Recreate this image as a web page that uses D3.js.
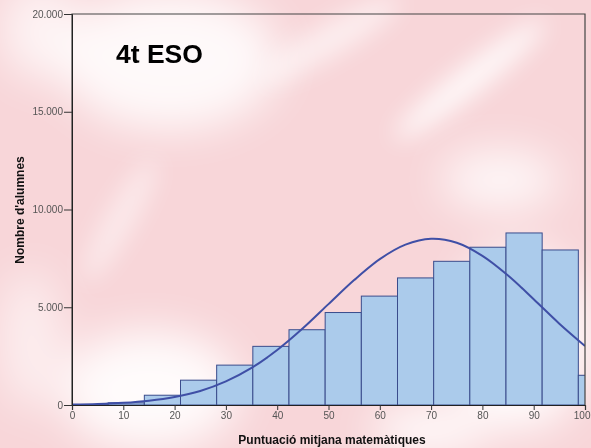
<!DOCTYPE html>
<html><head><meta charset="utf-8">
<script src="https://cdn.jsdelivr.net/npm/d3@7/dist/d3.min.js"></script>
<style>html,body{margin:0;padding:0;background:#fff;overflow:hidden}</style>
</head><body>
<svg id="chart" width="591" height="448"></svg>
<script>
// Data
const binStarts = [0, 7.05, 14.1, 21.15, 28.2, 35.25, 42.3, 49.35, 56.4, 63.45, 70.5, 77.55, 84.6, 91.65, 98.7];
const binWidth = 7.05;
const binCounts = [20, 110, 500, 1270, 2040, 3000, 3850, 4730, 5570, 6500, 7350, 8070, 8800, 7930, 1520];
const curveX = [0, 5, 10, 15, 20, 25, 30, 35, 40, 45, 50, 55, 60, 65, 70, 75, 80, 85, 90, 95, 100];
const curveY = [20, 50, 110, 220, 410, 720, 1210, 1900, 2810, 3920, 5160, 6390, 7460, 8200, 8500, 8300, 7630, 6620, 5410, 4160, 3020];
const xTicks = [0, 10, 20, 30, 40, 50, 60, 70, 80, 90, 100];
const yTicks = [0, 5000, 10000, 15000, 20000];
const yTickLabels = ["0", "5.000", "10.000", "15.000", "20.000"];
const title = "4t ESO";
const xTitle = "Puntuació mitjana matemàtiques";
const yTitle = "Nombre d'alumnes";

const svg = d3.select("#chart");
const L = 72, R = 585, T = 14, B = 405;
const x = d3.scaleLinear().domain([0, 100]).range([L, R]);
const y = d3.scaleLinear().domain([0, 20000]).range([B, T]);
const FONT = "Arial, 'Liberation Sans', sans-serif";

// Watermark-like background
const defs = svg.append("defs");
const f = defs.append("filter").attr("id", "blur").attr("x", "-50%").attr("y", "-50%").attr("width", "200%").attr("height", "200%");
f.append("feGaussianBlur").attr("stdDeviation", 22);
const f2 = defs.append("filter").attr("id", "blur2").attr("x", "-50%").attr("y", "-50%").attr("width", "200%").attr("height", "200%");
f2.append("feGaussianBlur").attr("stdDeviation", 12);
defs.append("clipPath").attr("id", "plotclip").append("rect")
  .attr("x", L).attr("y", T).attr("width", R - L).attr("height", B - T + 1);

const bg = svg.append("g");
bg.append("rect").attr("width", 591).attr("height", 448).attr("fill", "#f8d6d9");
const blobs = bg.append("g").attr("filter", "url(#blur)").attr("fill", "#ffffff");
blobs.append("ellipse").attr("cx", 170).attr("cy", 60).attr("rx", 110).attr("ry", 70).attr("opacity", 0.85);
blobs.append("ellipse").attr("cx", 40).attr("cy", 30).attr("rx", 40).attr("ry", 50).attr("opacity", 0.7);
blobs.append("ellipse").attr("cx", 150).attr("cy", 390).attr("rx", 90).attr("ry", 60).attr("opacity", 0.9);
blobs.append("ellipse").attr("cx", 30).attr("cy", 340).attr("rx", 30).attr("ry", 70).attr("opacity", 0.6);
blobs.append("ellipse").attr("cx", 520).attr("cy", 340).attr("rx", 70).attr("ry", 90).attr("opacity", 0.95);
blobs.append("ellipse").attr("cx", 500).attr("cy", 180).attr("rx", 60).attr("ry", 30).attr("opacity", 0.8);
blobs.append("ellipse").attr("cx", 430).attr("cy", 430).attr("rx", 60).attr("ry", 25).attr("opacity", 0.9);
const streaks = bg.append("g").attr("filter", "url(#blur2)").attr("fill", "#ffffff");
streaks.append("ellipse").attr("cx", 470).attr("cy", 80).attr("rx", 95).attr("ry", 14)
  .attr("transform", "rotate(-38 470 80)").attr("opacity", 0.85);
streaks.append("ellipse").attr("cx", 330).attr("cy", 40).attr("rx", 80).attr("ry", 16)
  .attr("transform", "rotate(-30 330 40)").attr("opacity", 0.6);
streaks.append("ellipse").attr("cx", 120).attr("cy", 220).attr("rx", 70).attr("ry", 14)
  .attr("transform", "rotate(-60 120 220)").attr("opacity", 0.5);

// Bars
const bars = svg.append("g").attr("clip-path", "url(#plotclip)");
bars.selectAll("rect").data(binStarts.map((s, i) => ({s, c: binCounts[i]})))
  .enter().append("rect")
  .attr("x", d => x(d.s))
  .attr("width", d => x(d.s + binWidth) - x(d.s))
  .attr("y", d => y(d.c))
  .attr("height", d => y(0) - y(d.c))
  .attr("fill", "#abcbeb")
  .attr("stroke", "#3a4c8c")
  .attr("stroke-width", 1);

// Normal curve
const line = d3.line().x(d => x(d[0])).y(d => y(d[1])).curve(d3.curveCatmullRom);
svg.append("path").datum(curveX.map((v, i) => [v, curveY[i]]))
  .attr("clip-path", "url(#plotclip)")
  .attr("d", line).attr("fill", "none").attr("stroke", "#3f4fa6").attr("stroke-width", 2);

// Frame
svg.append("path").attr("d", `M${L},${B}V${T}H${R}V${B}`).attr("fill", "none")
  .attr("stroke", "#444").attr("stroke-width", 1.2);

// Axes
const yAxis = d3.axisLeft(y).tickValues(yTicks).tickFormat((d, i) => yTickLabels[i]).tickSize(8).tickPadding(1);
const gy = svg.append("g").attr("transform", `translate(${L},0)`).call(yAxis);
gy.select(".domain").attr("stroke", "#222");
gy.selectAll(".tick line").attr("stroke", "#333");
gy.selectAll("text").attr("font-family", FONT).attr("font-size", 10).attr("fill", "#555");

const xAxis = d3.axisBottom(x).tickValues(xTicks).tickSize(5).tickPadding(2);
const gx = svg.append("g").attr("transform", `translate(0,${B})`).call(xAxis);
gx.select(".domain").attr("stroke", "#222").attr("stroke-width", 1.2);
gx.selectAll(".tick line").attr("stroke", "#333");
gx.selectAll("text").attr("font-family", FONT).attr("font-size", 10).attr("fill", "#555")
  .attr("text-anchor", d => d === 100 ? "end" : "middle")
  .attr("dx", d => d === 100 ? 5 : 0);

// Titles
svg.append("text").attr("x", 116).attr("y", 63).text(title)
  .attr("font-family", FONT).attr("font-weight", "bold")
  .attr("font-size", 26.5).attr("fill", "#000");
svg.append("text").attr("x", 332).attr("y", 444).attr("text-anchor", "middle").text(xTitle)
  .attr("font-family", FONT).attr("font-weight", "bold")
  .attr("font-size", 12).attr("fill", "#111");
svg.append("text").attr("transform", "translate(24,210) rotate(-90)").attr("text-anchor", "middle").text(yTitle)
  .attr("font-family", FONT).attr("font-weight", "bold")
  .attr("font-size", 12).attr("fill", "#111");
</script>
</body></html>
